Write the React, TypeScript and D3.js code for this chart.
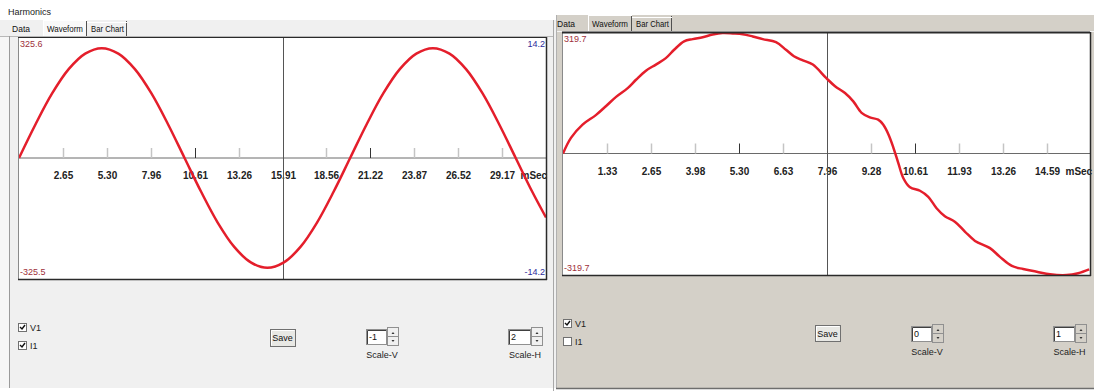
import * as d3 from 'd3';

// ---- data ----
const leftTickLabels = ['2.65', '5.30', '7.96', '10.61', '13.26', '15.91', '18.56', '21.22', '23.87', '26.52', '29.17'];
const rightTickLabels = ['1.33', '2.65', '3.98', '5.30', '6.63', '7.96', '9.28', '10.61', '11.93', '13.26', '14.59'];

// left panel: V1 waveform, Scale-V -1, Scale-H 2
const leftTimeMs = [0, 1, 2, 3, 4, 5, 6, 7, 8, 9, 10, 11, 12, 13, 14, 15, 16, 17, 18, 19, 20, 21, 22, 23, 24, 25, 26, 27, 28, 29, 30, 31, 31.83];
const leftV1 = [0, 100, 191, 263, 309, 325, 309, 263, 191, 100, 0, -100, -191, -263, -309, -325, -309, -263, -191, -100, 0, 100, 191, 263, 309, 325, 309, 263, 191, 100, 0, -100, -176];

// right panel: V1 waveform, Scale-V 0, Scale-H 1
const rightTimeMs = [0, 0.24, 0.59, 0.99, 1.3, 1.6, 1.95, 2.2, 2.5, 2.8, 3.1, 3.35, 3.65, 3.91, 4.21, 4.51, 4.81, 5.12, 5.42, 5.72, 6.02, 6.42, 6.72, 6.96, 7.23, 7.53, 7.93, 8.2, 8.5, 8.75, 9.0, 9.25, 9.5, 9.65, 9.81, 9.96, 10.11, 10.26, 10.46, 10.76, 11.01, 11.26, 11.51, 11.82, 12.12, 12.42, 12.87, 13.17, 13.53, 13.87, 14.28, 14.68, 15.18, 15.53, 15.86];
const rightV1 = [0, 41, 76, 101, 125, 149, 172, 194, 218, 234, 251, 273, 295, 301, 306, 313, 317, 316, 314, 308, 301, 293, 273, 256, 245, 234, 199, 177, 159, 137, 107, 95, 89, 76, 50, 15, -26, -65, -89, -98, -114, -144, -165, -180, -206, -230, -249, -272, -296, -304, -311, -318, -320, -315, -305];

const tabLabels = ['Data', 'Waveform', 'Bar Chart'];

const FONT = "'Liberation Sans', Arial, sans-serif";

function Tabs({ x, y, h, sel }: any) {
  const widths = [33, 44, 40];
  const textW = [18, 36, 33];
  let cx = x;
  return (
    <g fontFamily={FONT} fontSize={9} fill="#111">
      {tabLabels.map((label, i) => {
        const tx = cx;
        cx += widths[i];
        const w = widths[i];
        return (
          <g key={label}>
            {i === 1 && <rect x={tx} y={y - 1} width={w} height={h + 1} fill={sel} />}
            {i === 1 && <line x1={tx + 0.5} x2={tx + 0.5} y1={y - 1} y2={y + h} stroke="#ffffff" />}
            {i === 1 && <line x1={tx} x2={tx + w} y1={y - 0.5} y2={y - 0.5} stroke="#ffffff" />}
            {i >= 1 && <line x1={tx + w - 0.5} x2={tx + w - 0.5} y1={y} y2={y + h} stroke="#505050" />}
            {i === 2 && <line x1={tx} x2={tx + w} y1={y + 1.5} y2={y + 1.5} stroke="#ffffff" />}
            <text x={tx + (i === 0 ? 2 : 4)} y={y + h - 4} textLength={textW[i]} lengthAdjust="spacingAndGlyphs">
              {label}
            </text>
          </g>
        );
      })}
    </g>
  );
}

function Spin({ x, y, w, value, label, bg }: any) {
  const h = 15;
  return (
    <g fontFamily={FONT} fontSize={9}>
      <rect x={x + 0.5} y={y + 0.5} width={w} height={h} fill="#fff" stroke="#909090" />
      <line x1={x + 1.5} x2={x + w} y1={y + 1.5} y2={y + 1.5} stroke="#404040" />
      <line x1={x + 1.5} x2={x + 1.5} y1={y + 1.5} y2={y + h} stroke="#404040" />
      <text x={x + 3} y={y + 11} fill="#111">{value}</text>
      <rect x={x + w + 1.5} y={y - 1.5} width={11} height={h + 3} fill={bg} stroke="#909090" />
      <line x1={x + w + 1.5} x2={x + w + 12.5} y1={y + h / 2} y2={y + h / 2} stroke="#909090" />
      <path d={`M${x + w + 7},${y + 3} l1.5,2 h-3z`} fill="#333" />
      <path d={`M${x + w + 7},${y + h - 2} l1.5,-2 h-3z`} fill="#333" />
      <text x={x + w / 2 + 6} y={y + h + 14} textAnchor="middle" fill="#222">{label}</text>
    </g>
  );
}

function Check({ x, y, checked, label }: any) {
  return (
    <g fontFamily={FONT} fontSize={9}>
      <rect x={x + 0.5} y={y + 0.5} width={8} height={8} fill="#fff" stroke="#707070" />
      {checked && <path d={`M${x + 2},${y + 4} l2,2 l3,-4`} fill="none" stroke="#111" strokeWidth={1.4} />}
      <text x={x + 12} y={y + 8} fill="#222">{label}</text>
    </g>
  );
}

function Button({ x, y, w, h }: any) {
  return (
    <g fontFamily={FONT} fontSize={9}>
      <rect x={x + 0.5} y={y + 0.5} width={w} height={h} fill="#e8e8e4" stroke="#707070" />
      <path d={`M${x + 1.5},${y + h - 0.5} V${y + 1.5} H${x + w - 0.5}`} fill="none" stroke="#fff" />
      <text x={x + w / 2} y={y + h / 2 + 3.5} textAnchor="middle" fill="#111">Save</text>
    </g>
  );
}

function Waveform({ p }: any) {
  const x = d3.scaleLinear().domain([0, p.tMax]).range([p.x0, p.x1]);
  const y = d3.scaleLinear().domain([-p.vMax, p.vMax]).range([p.bottom, p.top]);
  const line = d3
    .line<number>()
    .x((_, i) => x(p.times[i]))
    .y((d) => y(d))
    .curve(d3.curveCatmullRom);
  const step = p.tMax / 12;
  const zeroY = y(0);
  const clipId = `clip-${p.id}`;
  return (
    <g>
      <defs>
        <clipPath id={clipId}>
          <rect x={p.boxX} y={p.top} width={p.boxR - p.boxX} height={p.bottom - p.top} />
        </clipPath>
      </defs>
      <rect x={p.boxX} y={p.top} width={p.boxR - p.boxX} height={p.bottom - p.top} fill="#fff" />
      {/* time axis */}
      <line x1={p.boxX} x2={p.boxR} y1={zeroY} y2={zeroY} stroke="#6a6a6a" />
      {p.ticks.map((lab: string, i: number) => {
        const tx = Math.round(x((i + 1) * step)) + 0.5;
        const dark = i === 3 || i === 7;
        return (
          <g key={lab}>
            {i !== 5 && <line x1={tx} x2={tx} y1={zeroY - 10} y2={zeroY} stroke={dark ? '#333' : '#c4c4c4'} strokeWidth={dark ? 1 : 1.5} />}
            <text x={tx} y={zeroY + 21} textAnchor="middle" fontFamily={FONT} fontSize={10} fontWeight="bold" fill="#222">
              {lab}
            </text>
            {i === p.ticks.length - 1 && (
              <text x={tx + 18} y={zeroY + 21} fontFamily={FONT} fontSize={10} fontWeight="bold" fill="#222">
                mSec
              </text>
            )}
          </g>
        );
      })}
      {/* centre line */}
      <line x1={Math.round(x(6 * step)) + 0.5} x2={Math.round(x(6 * step)) + 0.5} y1={p.top} y2={p.bottom} stroke="#555" />
      <path d={line(p.values) || ''} fill="none" stroke="#e41e2b" strokeWidth={2.5} clipPath={`url(#${clipId})`} />
      {/* corner scale labels */}
      <g fontFamily={FONT} fontSize={9}>
        <text x={p.boxX + 2} y={p.top + 10} fill="#a0303a">{p.vTop}</text>
        <text x={p.boxX + 2} y={p.bottom - 4} fill="#a0303a">{p.vBot}</text>
        {p.iTop && (
          <text x={p.boxR - 1} y={p.top + 10} textAnchor="end" fill="#2c2c9c">{p.iTop}</text>
        )}
        {p.iBot && (
          <text x={p.boxR - 1} y={p.bottom - 4} textAnchor="end" fill="#2c2c9c">{p.iBot}</text>
        )}
      </g>
      {/* frame */}
      <line x1={p.boxX + 0.5} x2={p.boxX + 0.5} y1={p.top} y2={p.bottom} stroke="#8a8a8a" />
      <line x1={p.boxX} x2={p.boxR} y1={p.top + 0.5} y2={p.top + 0.5} stroke="#2a2a2a" strokeWidth={p.id === 'r' ? 2 : 1} />
      <line x1={p.boxR + 0.5} x2={p.boxR + 0.5} y1={p.top} y2={p.bottom + 1} stroke="#2a2a2a" strokeWidth={1.5} />
      <line x1={p.boxX} x2={p.boxR + 1} y1={p.bottom + 0.5} y2={p.bottom + 0.5} stroke="#2a2a2a" strokeWidth={1.5} />
    </g>
  );
}

const leftPanel = {
  id: 'l',
  boxX: 18,
  boxR: 546,
  x0: 19,
  x1: 546,
  top: 37,
  bottom: 279,
  tMax: 31.83,
  vMax: 358,
  times: leftTimeMs,
  values: leftV1,
  ticks: leftTickLabels,
  vTop: '325.6',
  vBot: '-325.5',
  iTop: '14.2',
  iBot: '-14.2',
};

const rightPanel = {
  id: 'r',
  boxX: 562,
  boxR: 1090,
  x0: 563,
  x1: 1091,
  top: 32,
  bottom: 275,
  tMax: 15.915,
  vMax: 319.7,
  times: rightTimeMs,
  values: rightV1,
  ticks: rightTickLabels,
  vTop: '319.7',
  vBot: '-319.7',
};

export default function App() {
  return (
    <svg width={1094} height={391} style={{ position: 'absolute', left: 0, top: 0, background: '#fff' }}>
      {/* left window */}
      <rect x={0} y={20} width={556} height={368} fill="#f0f0f0" />
      <rect x={0} y={36} width={9} height={352} fill="#f6f6f6" />
      <text x={8} y={15} fontFamily={FONT} fontSize={9} fill="#222">Harmonics</text>
      <line x1={0} x2={553} y1={36.5} y2={36.5} stroke="#b8b8b8" />
      <Tabs x={10} y={21} h={15} sel="#f9f9f9" />
      <line x1={9.5} x2={9.5} y1={36} y2={388} stroke="#9a9a9a" />
      <line x1={553.5} x2={553.5} y1={20} y2={391} stroke="#a8a8a8" />
      <Waveform p={leftPanel} />
      <Check x={18} y={323} checked label="V1" />
      <Check x={18} y={341} checked label="I1" />
      <Button x={270} y={329} w={25} h={17} />
      <Spin x={366} y={329} w={20} value="-1" label="Scale-V" bg="#f0f0f0" />
      <Spin x={508} y={329} w={22} value="2" label="Scale-H" bg="#f0f0f0" />

      {/* right window */}
      <rect x={556} y={15} width={538} height={373} fill="#d4d0c8" />
      <line x1={556} x2={1094} y1={31.5} y2={31.5} stroke="#f4f4f4" />
      <Tabs x={555} y={16} h={15} sel="#d4d0c8" />
      <line x1={556.5} x2={556.5} y1={15} y2={388} stroke="#b0b0b0" />
      <Waveform p={rightPanel} />
      <Check x={563} y={319} checked label="V1" />
      <Check x={563} y={337} checked={false} label="I1" />
      <Button x={815} y={325} w={25} h={16} />
      <Spin x={911} y={326} w={20} value="0" label="Scale-V" bg="#d4d0c8" />
      <Spin x={1053} y={326} w={21} value="1" label="Scale-H" bg="#d4d0c8" />
      <line x1={556} x2={1094} y1={388.5} y2={388.5} stroke="#6e6e6e" strokeWidth={1.5} />
    </svg>
  );
}
